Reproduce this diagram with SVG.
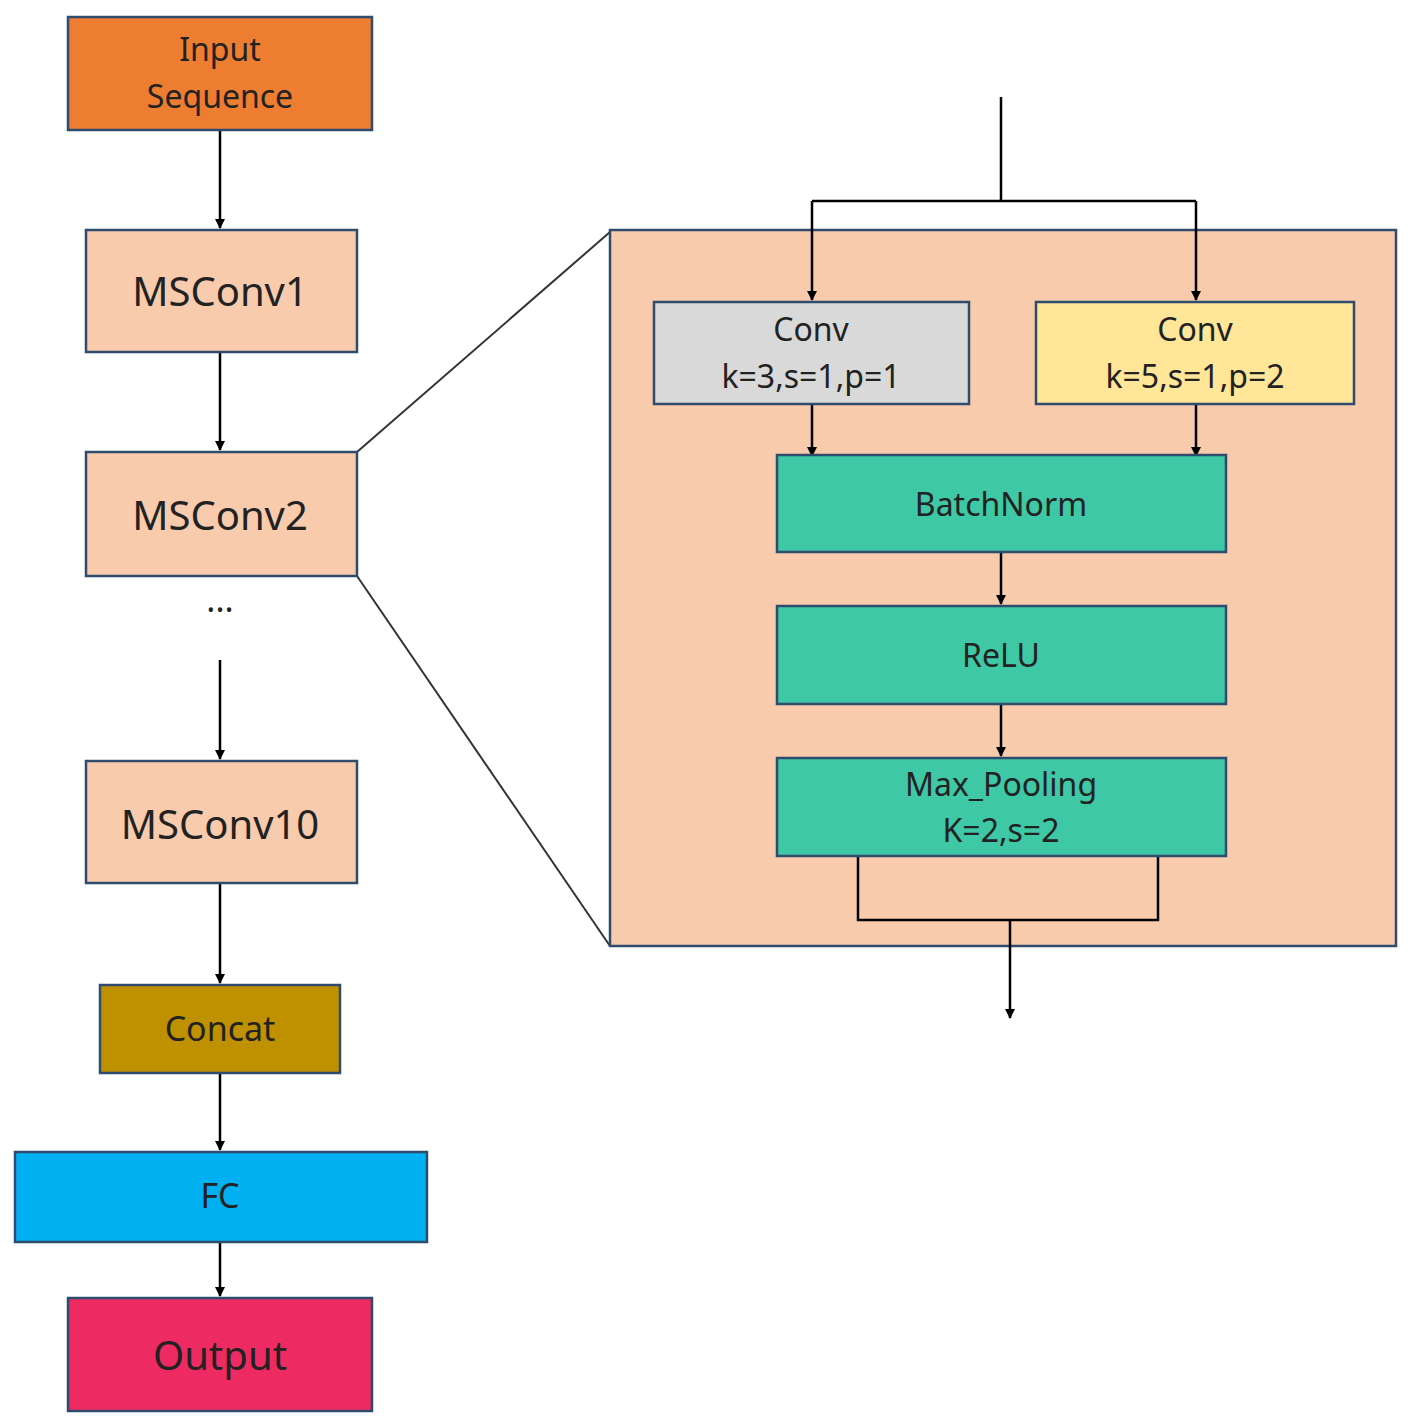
<svg xmlns="http://www.w3.org/2000/svg" width="1413" height="1428" viewBox="0 0 1413 1428">
<defs>
<marker id="ah" markerWidth="10" markerHeight="10" refX="9" refY="5" orient="auto" markerUnits="userSpaceOnUse" viewBox="0 0 10 10"><path d="M0,0 L10,5 L0,10 z" fill="#000"/></marker>
<style>
.b{stroke:#2F4B6E;stroke-width:2.5}
.t{font-family:"Noto Sans","DejaVu Sans",sans-serif;text-anchor:middle;fill:#222}
.c{stroke:#000;stroke-width:2.5;fill:none}
.a{marker-end:url(#ah)}
</style>
</defs>
<rect width="1413" height="1428" fill="#fff"/>
<g id="connectors">
<line class="c a" x1="220" y1="130" x2="220" y2="228" transform="" style="marker-end:url(#ah)"/>
<line class="c" x1="220" y1="352" x2="220" y2="450" style="marker-end:url(#ah)"/>
<line class="c" x1="220" y1="660" x2="220" y2="759" style="marker-end:url(#ah)"/>
<line class="c" x1="220" y1="883" x2="220" y2="983" style="marker-end:url(#ah)"/>
<line class="c" x1="220" y1="1073" x2="220" y2="1150" style="marker-end:url(#ah)"/>
<line class="c" x1="220" y1="1242" x2="220" y2="1296" style="marker-end:url(#ah)"/>
<line x1="357" y1="452" x2="610" y2="232" stroke="#333" stroke-width="2"/>
<line x1="357" y1="576" x2="610" y2="946" stroke="#333" stroke-width="2"/>
</g>
<g id="panel"><rect x="610" y="230" width="786" height="716" fill="#F8CBAD" class="b"/></g>
<g id="inner-connectors">
<polyline class="c" points="1001,97 1001,201"/>
<polyline class="c" points="812,201 1196,201"/>
<line class="c" x1="812" y1="201" x2="812" y2="300" style="marker-end:url(#ah)"/>
<line class="c" x1="1196" y1="201" x2="1196" y2="300" style="marker-end:url(#ah)"/>
<line class="c" x1="812" y1="404" x2="812" y2="456" style="marker-end:url(#ah)"/>
<line class="c" x1="1196" y1="404" x2="1196" y2="456" style="marker-end:url(#ah)"/>
<line class="c" x1="1001" y1="552" x2="1001" y2="604" style="marker-end:url(#ah)"/>
<line class="c" x1="1001" y1="704" x2="1001" y2="756" style="marker-end:url(#ah)"/>
<polyline class="c" points="858,856 858,920 1158,920 1158,856"/>
<line class="c" x1="1010" y1="920" x2="1010" y2="1018" style="marker-end:url(#ah)"/>
</g>
<g id="input"><rect x="68" y="17" width="304" height="113" fill="#ED7D31" class="b"/><text class="t" x="220" y="61" font-size="32">Input</text><text class="t" x="220" y="108" font-size="32">Sequence</text></g>
<g id="msconv1"><rect x="86" y="230" width="271" height="122" fill="#F8CBAD" class="b"/><text class="t" x="220" y="306" font-size="40">MSConv1</text></g>
<g id="msconv2"><rect x="86" y="452" width="271" height="124" fill="#F8CBAD" class="b"/><text class="t" x="220" y="530" font-size="40">MSConv2</text></g>
<g id="dots"><text class="t" x="220" y="622" font-size="34">···</text></g>
<g id="msconv10"><rect x="86" y="761" width="271" height="122" fill="#F8CBAD" class="b"/><text class="t" x="220" y="839" font-size="40">MSConv10</text></g>
<g id="concat"><rect x="100" y="985" width="240" height="88" fill="#BF9000" class="b"/><text class="t" x="220" y="1041" font-size="34">Concat</text></g>
<g id="fc"><rect x="15" y="1152" width="412" height="90" fill="#00B0F0" class="b"/><text class="t" x="220" y="1208" font-size="34">FC</text></g>
<g id="output"><rect x="68" y="1298" width="304" height="113" fill="#EE2A62" class="b"/><text class="t" x="220" y="1370" font-size="40">Output</text></g>
<g id="conv3"><rect x="654" y="302" width="315" height="102" fill="#D9D9D9" class="b"/><text class="t" x="811" y="341" font-size="32">Conv</text><text class="t" x="811" y="388" font-size="32">k=3,s=1,p=1</text></g>
<g id="conv5"><rect x="1036" y="302" width="318" height="102" fill="#FFE699" class="b"/><text class="t" x="1195" y="341" font-size="32">Conv</text><text class="t" x="1195" y="388" font-size="32">k=5,s=1,p=2</text></g>
<g id="bn"><rect x="777" y="455" width="449" height="97" fill="#3EC8A5" class="b"/><text class="t" x="1001" y="516" font-size="32">BatchNorm</text></g>
<g id="relu"><rect x="777" y="606" width="449" height="98" fill="#3EC8A5" class="b"/><text class="t" x="1001" y="667" font-size="32">ReLU</text></g>
<g id="pool"><rect x="777" y="758" width="449" height="98" fill="#3EC8A5" class="b"/><text class="t" x="1001" y="796" font-size="32">Max_Pooling</text><text class="t" x="1001" y="842" font-size="32">K=2,s=2</text></g>
</svg>
